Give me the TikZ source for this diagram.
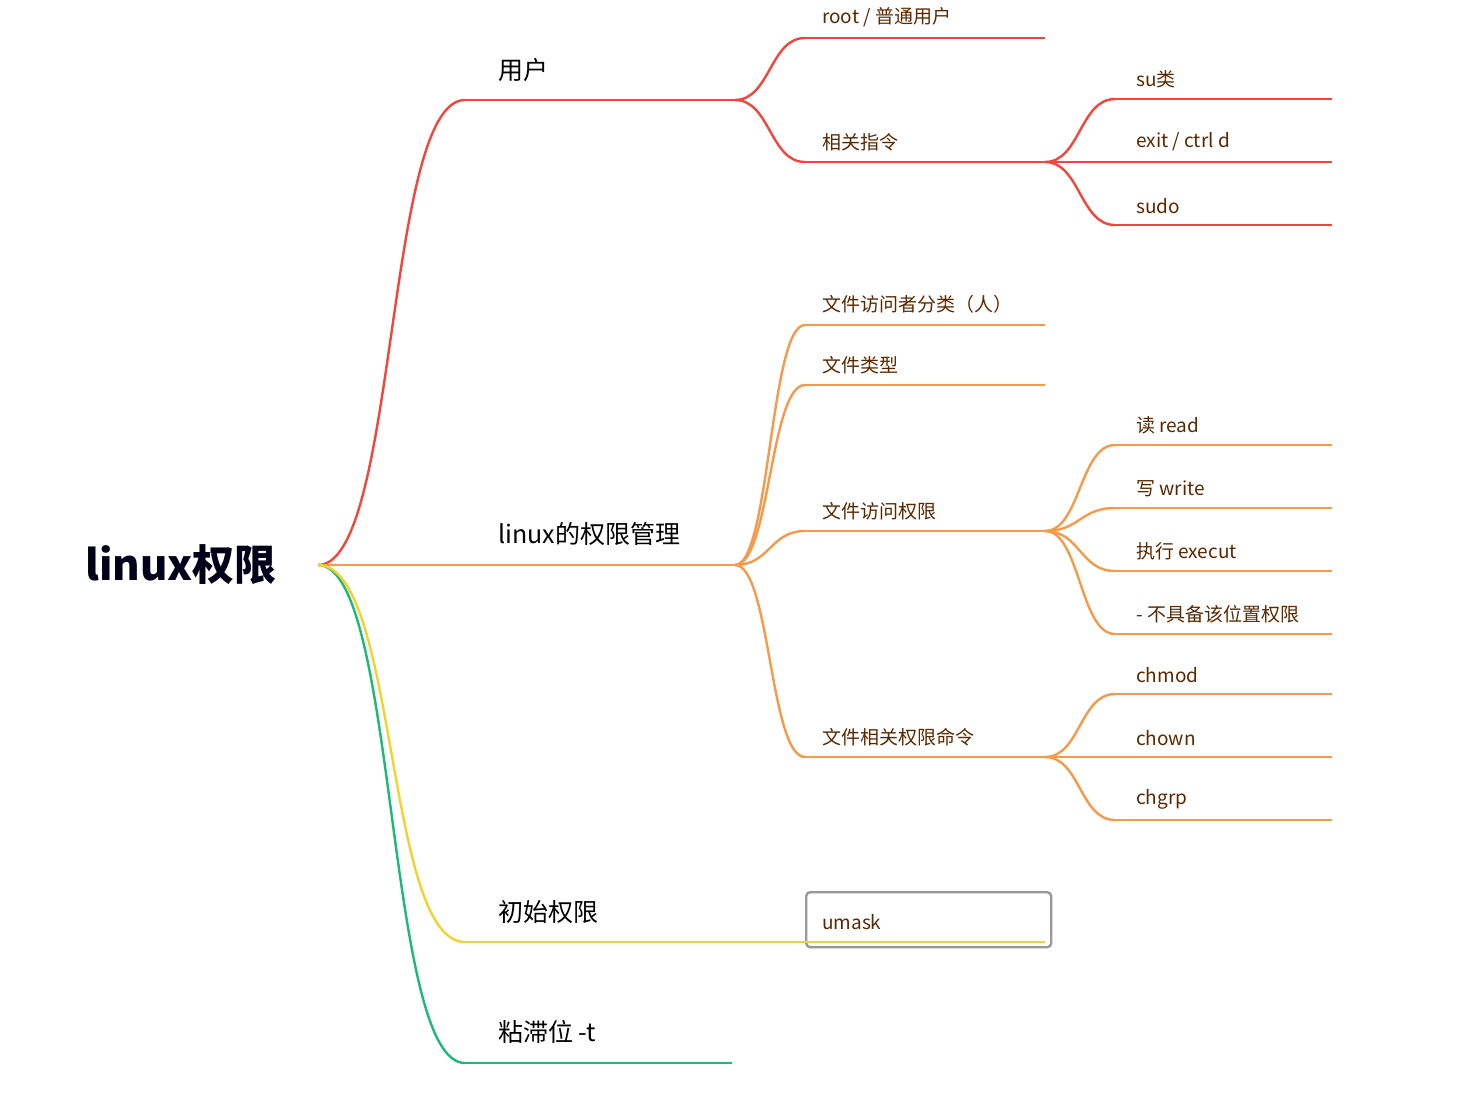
\documentclass[tikz,border=0pt]{standalone}
\usepackage{fontspec}
\setmainfont{Noto Sans CJK SC}
\usetikzlibrary{calc}
\definecolor{cred}{HTML}{F0463C}
\definecolor{corg}{HTML}{F59A4A}
\definecolor{cyel}{HTML}{F2D230}
\definecolor{cgrn}{HTML}{1DB87A}
\definecolor{ctxt}{HTML}{5A2800}
\tikzset{
  br/.style={line width=2.4pt},
  lab2/.style={anchor=south west,font=\fontsize{25}{28}\selectfont,text=black,inner sep=0pt},
  lab3/.style={anchor=south west,font=\fontsize{19}{22}\selectfont,text=ctxt,inner sep=0pt},
}
\newcommand{\crv}[4]{\draw[br,#1] (#2) .. controls ($(#2)+(#4,0)$) and ($(#3)-(#4,0)$) .. (#3);}
\begin{document}
\begin{tikzpicture}[x=1pt,y=-1pt]
\useasboundingbox (0,0) rectangle (1479,1119);
\node[anchor=base west,font=\bfseries\fontsize{42}{46}\selectfont,text=black!90!blue,inner sep=0pt] (root) at (85,580) {linux权限};
\coordinate (r) at (318,565);
% level 2
\coordinate (u1) at (465,100); \coordinate (u2) at (735,100);
\coordinate (p1) at (465,565); \coordinate (p2) at (735,565);
\coordinate (y1) at (465,942); \coordinate (y2) at (1045,942);
\coordinate (g1) at (465,1063); \coordinate (g2) at (732,1063);
\crv{cred}{r}{u1}{80} \draw[br,cred] (u1)--(u2);
\draw[br,corg] (r)--(p2);
\crv{cgrn}{r}{g1}{80} \draw[br,cgrn] (g1)--(g2);
\crv{cyel}{r}{y1}{80}
\node[lab2] (nu) at (498,82) {用户};
\node[lab2] (np) at (498,546) {linux的权限管理};
\node[lab2] (ny) at (498,924) {初始权限};
\node[lab2] (ng) at (498,1044) {粘滞位 -t};
% umask box
\node[draw=gray!80,line width=2.4pt,rounded corners=4pt,minimum width=245pt,minimum height=55pt,anchor=north west] (ub) at (805,891) {};
\node[lab3] (um) at (822,930) {umask};
\draw[br,cyel] (y1)--(y2);
% red level 3
\foreach \n/\y/\t in {a/38/{root / 普通用户},b/162/相关指令}{
  \coordinate (s\n) at (805,\y); \coordinate (e\n) at (1045,\y);
  \crv{cred}{u2}{s\n}{35} \draw[br,cred] (s\n)--(e\n);
  \node[lab3] (t\n) at (822,\y-11) {\t};
}
\foreach \n/\y/\t in {c/99/su类,d/162/{exit / ctrl d},e/225/sudo}{
  \coordinate (s\n) at (1115,\y); \coordinate (e\n) at (1332,\y);
  \crv{cred}{eb}{s\n}{35} \draw[br,cred] (s\n)--(e\n);
  \node[lab3] (t\n) at (1136,\y-11) {\t};
}
% orange level 3
\foreach \n/\y/\t in {f/325/文件访问者分类（人）,g/385/文件类型,h/531/文件访问权限,i/757/文件相关权限命令}{
  \coordinate (s\n) at (805,\y); \coordinate (e\n) at (1045,\y);
  \crv{corg}{p2}{s\n}{35} \draw[br,corg] (s\n)--(e\n);
  \node[lab3] (t\n) at (822,\y-11) {\t};
}
\foreach \n/\y/\t in {j/445/读 read,k/508/写 write,l/571/执行 execut,m/634/- 不具备该位置权限}{
  \coordinate (s\n) at (1115,\y); \coordinate (e\n) at (1332,\y);
  \crv{corg}{eh}{s\n}{35} \draw[br,corg] (s\n)--(e\n);
  \node[lab3] (t\n) at (1136,\y-11) {\t};
}
\foreach \n/\y/\t in {o/694/chmod,q/757/chown,w/820/chgrp}{
  \coordinate (s\n) at (1115,\y); \coordinate (e\n) at (1332,\y);
  \crv{corg}{ei}{s\n}{35} \draw[br,corg] (s\n)--(e\n);
  \node[lab3] (t\n) at (1136,\y-11) {\t};
}
\end{tikzpicture}
\end{document}
